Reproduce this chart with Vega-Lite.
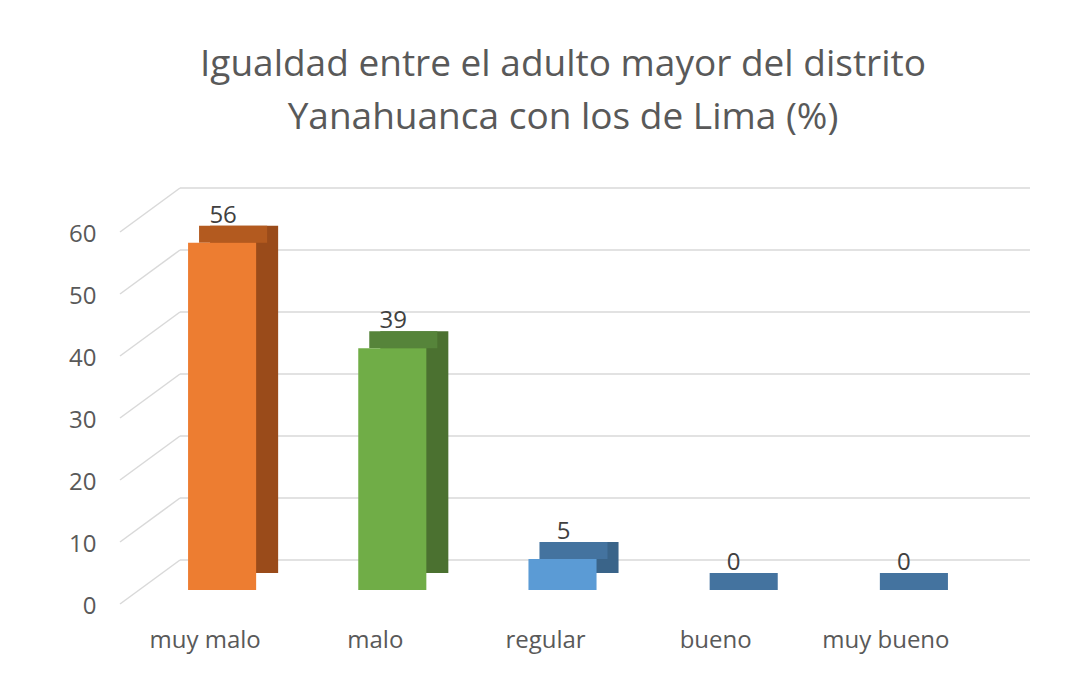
{
  "$schema": "https://vega.github.io/schema/vega-lite/v6.json",
  "width": 850,
  "height": 372,
  "autosize": "none",
  "padding": {"left": 180, "top": 218, "right": 60, "bottom": 83},
  "background": "white",
  "title": {
    "text": ["Igualdad entre el adulto mayor del distrito", "Yanahuanca con los de Lima (%)"],
    "font": "Open Sans",
    "fontSize": 37,
    "fontWeight": "normal",
    "color": "#595959",
    "lineHeight": 53,
    "dx": -42,
    "offset": 50
  },
  "datasets": {
    "bars": [
      {"cat": "muy malo", "v": 56},
      {"cat": "malo", "v": 39},
      {"cat": "regular", "v": 5},
      {"cat": "bueno", "v": 0},
      {"cat": "muy bueno", "v": 0}
    ],
    "ticks": [
      {"t": 0}, {"t": 10}, {"t": 20}, {"t": 30}, {"t": 40}, {"t": 50}, {"t": 60}
    ]
  },
  "layer": [
    {
      "data": {"name": "ticks"},
      "layer": [
        {
          "mark": {"type": "rule", "color": "#D9D9D9", "strokeWidth": 1.5, "yOffset": -30},
          "encoding": {
            "y": {"field": "t", "type": "quantitative"}
          }
        },
        {
          "mark": {"type": "rule", "color": "#D9D9D9", "strokeWidth": 1.5, "xOffset": -60, "x2Offset": 0, "yOffset": 14, "y2Offset": -30},
          "encoding": {
            "x": {"datum": 0, "type": "quantitative", "scale": {"domain": [0, 1]}, "axis": null},
            "x2": {"datum": 0},
            "y": {"field": "t", "type": "quantitative"},
            "y2": {"field": "t"}
          }
        }
      ]
    },
    {
      "data": {"name": "bars"},
      "encoding": {
        "x": {
          "field": "cat",
          "type": "nominal",
          "sort": null,
          "scale": {"range": [-60, 791], "paddingInner": 0.6, "paddingOuter": 0.3},
          "axis": {
            "title": null,
            "labelAngle": 0,
            "labelFont": "Open Sans",
            "labelFontSize": 24,
            "labelColor": "#595959",
            "labelPadding": 38,
            "domain": false,
            "ticks": false,
            "tickSize": 0,
            "grid": false
          }
        }
      },
      "layer": [
        {
          "mark": {"type": "bar", "xOffset": 39, "yOffset": -17, "y2Offset": -17},
          "encoding": {
            "y": {"field": "v", "type": "quantitative"},
            "y2": {"datum": 0},
            "color": {
              "field": "cat",
              "type": "nominal",
              "sort": null,
              "legend": null,
              "scale": {"domain": ["muy malo", "malo", "regular", "bueno", "muy bueno"], "range": ["#9A4B1A", "#4B7130", "#3A6489", "#41719C", "#41719C"]}
            }
          }
        },
        {
          "mark": {"type": "bar", "xOffset": 28, "yOffset": -17, "y2Offset": 0},
          "encoding": {
            "y": {"field": "v", "type": "quantitative"},
            "y2": {"field": "v"},
            "color": {
              "field": "cat",
              "type": "nominal",
              "sort": null,
              "legend": null,
              "scale": {"domain": ["muy malo", "malo", "regular", "bueno", "muy bueno"], "range": ["#B35A1F", "#56843A", "#44739F", "#44739F", "#44739F"]}
            }
          }
        },
        {
          "mark": {"type": "bar", "xOffset": 17},
          "encoding": {
            "y": {"field": "v", "type": "quantitative"},
            "y2": {"datum": 0},
            "color": {
              "field": "cat",
              "type": "nominal",
              "sort": null,
              "legend": null,
              "scale": {"domain": ["muy malo", "malo", "regular", "bueno", "muy bueno"], "range": ["#ED7D31", "#70AD47", "#5B9BD5", "#44739F", "#44739F"]}
            }
          }
        },
        {
          "mark": {"type": "text", "font": "Open Sans", "fontSize": 24, "color": "#404040", "baseline": "alphabetic", "dx": 18, "dy": -20},
          "encoding": {
            "y": {"field": "v", "type": "quantitative"},
            "text": {"field": "v", "type": "quantitative"}
          }
        }
      ],
      "resolve": {"scale": {"color": "independent"}}
    }
  ],
  "encoding": {
    "y": {
      "type": "quantitative",
      "scale": {"domain": [0, 60], "nice": false},
      "axis": {
        "title": null,
        "values": [0, 10, 20, 30, 40, 50, 60],
        "labelOffset": 16,
        "labelFont": "Open Sans",
        "labelFontSize": 24,
        "labelColor": "#595959",
        "labelPadding": 84,
        "domain": false,
        "ticks": false,
        "tickSize": 0,
        "grid": false
      }
    }
  },
  "resolve": {"scale": {"color": "independent", "x": "independent"}, "axis": {"x": "independent"}},
  "config": {"view": {"stroke": null}}
}
